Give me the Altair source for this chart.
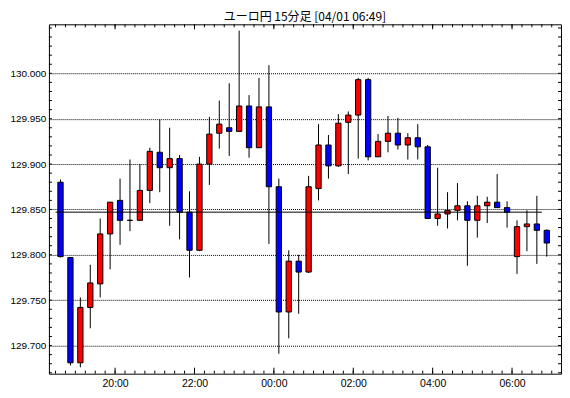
import altair as alt
import pandas as pd
import numpy as np

title_text = "ユーロ円 15分足 [04/01 06:49]"
first_start = "2025-03-31 18:30"

opens = [129.880, 129.797, 129.681, 129.742, 129.768, 129.823, 129.860, 129.838, 129.838, 129.871,
         129.913, 129.896, 129.906, 129.847, 129.805, 129.900, 129.934, 129.940, 129.936, 129.964,
         129.918, 129.963, 129.875, 129.737, 129.793, 129.781, 129.873, 129.921, 129.898, 129.946,
         129.954, 129.993, 129.908, 129.925, 129.934, 129.921, 129.929, 129.919, 129.840, 129.845,
         129.849, 129.854, 129.838, 129.854, 129.858, 129.852, 129.798, 129.831, 129.834, 129.827]
highs = [129.883, 129.797, 129.753, 129.789, 129.840, 129.858, 129.884, 129.905, 129.900, 129.918,
         129.949, 129.940, 129.910, 129.870, 129.908, 129.952, 129.970, 129.989, 130.047, 129.976,
         129.995, 130.009, 129.884, 129.805, 129.800, 129.887, 129.944, 129.932, 129.955, 129.958,
         129.995, 129.995, 129.933, 129.953, 129.951, 129.934, 129.944, 129.921, 129.896, 129.869,
         129.879, 129.859, 129.865, 129.864, 129.889, 129.859, 129.838, 129.849, 129.865, 129.828]
lows = [129.797, 129.678, 129.676, 129.719, 129.753, 129.784, 129.811, 129.826, 129.838, 129.857,
        129.869, 129.832, 129.817, 129.775, 129.804, 129.877, 129.917, 129.909, 129.936, 129.907,
        129.918, 129.812, 129.691, 129.708, 129.735, 129.780, 129.860, 129.884, 129.897, 129.889,
        129.906, 129.904, 129.908, 129.913, 129.916, 129.905, 129.905, 129.840, 129.832, 129.829,
        129.838, 129.788, 129.819, 129.835, 129.852, 129.830, 129.779, 129.804, 129.790, 129.798]
closes = [129.798, 129.681, 129.742, 129.769, 129.823, 129.858, 129.838, 129.838, 129.871, 129.914,
          129.896, 129.906, 129.847, 129.805, 129.900, 129.933, 129.944, 129.936, 129.964, 129.918,
          129.963, 129.875, 129.737, 129.793, 129.781, 129.875, 129.921, 129.898, 129.945, 129.954,
          129.993, 129.908, 129.925, 129.934, 129.921, 129.929, 129.919, 129.840, 129.845, 129.849,
          129.854, 129.838, 129.854, 129.858, 129.852, 129.847, 129.831, 129.834, 129.827, 129.813]

ref_level = 129.847
ref_start = "2025-03-31 18:30"
ref_end = "2025-04-01 06:45"

y_labels = [129.70, 129.75, 129.80, 129.85, 129.90, 129.95, 130.00]
y_domain = [129.669, 130.054]
x_domain = ["2025-03-31 18:20", "2025-04-01 07:14"]
x_label_times = ["2025-03-31 20:00", "2025-03-31 22:00", "2025-04-01 00:00",
                 "2025-04-01 02:00", "2025-04-01 04:00", "2025-04-01 06:00"]

W, H = 513, 350


def iso(ts):
    return pd.Timestamp(ts).strftime("%Y-%m-%dT%H:%M:%SZ")


def ms(ts):
    return int(pd.Timestamp(ts).value // 10**6)


starts = pd.date_range(first_start, periods=len(opens), freq="15min")
df = pd.DataFrame({
    "t": [iso(s + pd.Timedelta(minutes=7.5)) for s in starts],
    "x0": [iso(s + pd.Timedelta(minutes=3.5)) for s in starts],
    "x1": [iso(s + pd.Timedelta(minutes=11.5)) for s in starts],
    "open": opens, "high": highs, "low": lows, "close": closes,
})
df["dir"] = np.where(df["close"] >= df["open"], "up", "down")

x_scale = alt.Scale(type="utc", domain=[ms(x_domain[0]), ms(x_domain[1])])
y_scale = alt.Scale(domain=y_domain, zero=False, nice=False)

x_axis = alt.Axis(title=None, format="%H:%M", values=[ms(t) for t in x_label_times],
                  ticks=False, domain=False, grid=False, labelFont="Liberation Sans",
                  labelFontSize=10.5, labelColor="black", labelPadding=5, labelFlush=False)
y_axis = alt.Axis(title=None, values=y_labels, format=".3f", ticks=False, domain=False,
                  grid=True, gridColor="black", gridDash=[1, 1], gridOpacity=1, gridWidth=1,
                  labelFont="Liberation Sans", labelFontSize=10, labelColor="black", labelPadding=3)

wicks = alt.Chart(df).mark_rule(color="black", strokeWidth=1).encode(
    x=alt.X("t:T", scale=x_scale, axis=x_axis),
    y=alt.Y("low:Q", scale=y_scale, axis=y_axis),
    y2="high:Q",
)

bodies = alt.Chart(df).mark_rect(stroke="black", strokeWidth=1).encode(
    x=alt.X("x0:T", title=None),
    x2="x1:T",
    y=alt.Y("open:Q", title=None),
    y2="close:Q",
    color=alt.Color("dir:N", scale=alt.Scale(domain=["up", "down"], range=["#ff0000", "#0000ff"]), legend=None),
)

ref_df = pd.DataFrame({"t": [iso(ref_start)], "t2": [iso(ref_end)], "v": [ref_level]})
hline = alt.Chart(ref_df).mark_rule(color="black", strokeWidth=1).encode(
    x=alt.X("t:T", title=None), x2="t2:T", y=alt.Y("v:Q", title=None))

y_minor = pd.DataFrame({"v": np.round(np.arange(129.67, 130.055, 0.01), 2)})
x_minor = pd.DataFrame({"t": [iso(s) for s in pd.date_range("2025-03-31 18:30", "2025-04-01 07:00", freq="15min")]})
x_major = pd.DataFrame({"t": [iso(s) for s in x_label_times]})


def yt(x1, x2):
    return alt.Chart(y_minor).mark_rule(color="black", strokeWidth=1).encode(
        y=alt.Y("v:Q", title=None), x=alt.value(x1), x2=alt.value(x2))


def xt(d, y1, y2):
    return alt.Chart(d).mark_rule(color="black", strokeWidth=1).encode(
        x=alt.X("t:T", title=None), y=alt.value(y1), y2=alt.value(y2))


chart = alt.layer(
    wicks, bodies, hline,
    yt(0, 3), yt(W - 3, W),
    xt(x_minor, H, H - 3), xt(x_minor, 0, 3),
    xt(x_major, H, H - 6), xt(x_major, 0, 5),
).properties(
    width=W, height=H,
    title=alt.TitleParams(title_text, font="Noto Sans CJK JP", fontSize=12, fontWeight="normal",
                          color="black", anchor="middle", frame="group", offset=3, dy=3),
    padding={"left": 41, "top": 16, "right": 1, "bottom": 16},
    autosize=alt.AutoSizeParams(type="none"),
    background="white",
).configure_view(stroke="black", strokeWidth=1)

chart.save("out.html", embed_options={"renderer": "svg", "actions": False})
